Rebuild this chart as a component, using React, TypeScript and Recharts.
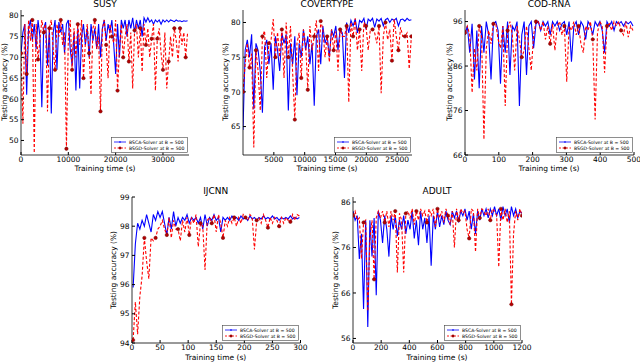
import React from 'react';
import { LineChart, Line, XAxis, YAxis } from 'recharts';

// ---- SUSY ----
const susyTime = [
  0, 400, 800, 1200, 1600, 2000, 2400, 2800, 3200, 3600,
  4000, 4400, 4800, 5200, 5600, 6000, 6400, 6800, 7200, 7600,
  8000, 8400, 8800, 9200, 9600, 10000, 10400, 10800, 11200, 11600,
  12000, 12400, 12800, 13200, 13600, 14000, 14400, 14800, 15200, 15600,
  16000, 16400, 16800, 17200, 17600, 18000, 18400, 18800, 19200, 19600,
  20000, 20400, 20800, 21200, 21600, 22000, 22400, 22800, 23200, 23600,
  24000, 24400, 24800, 25200, 25600, 26000, 26400, 26800, 27200, 27600,
  28000, 28400, 28800, 29200, 29600, 30000, 30400, 30800, 31200, 31600,
  32000, 32400, 32800, 33200, 33600, 34000, 34400, 34800, 35200,
];
const susyBsca = [
  71, 76, 78, 61, 77, 79, 74, 78, 72, 79,
  75, 58, 77, 78.5, 68, 77, 56.5, 76, 79, 67,
  78.5, 76, 78, 71, 78, 79, 72, 68, 76, 62,
  77, 62.5, 75, 78, 73, 77, 70, 78, 74, 77,
  72, 78, 70, 77, 79, 74, 78, 76, 79, 73,
  66, 78, 70, 79, 77, 79, 75, 79, 77, 79.5,
  76, 79, 77, 79, 75, 79.5, 78.5, 79.5, 78.5, 79,
  78, 79, 78.5, 79, 78, 79, 78.5, 79, 78.5, 79,
  78.8, 78.6, 79, 78.7, 78.8, 78.6, 78.8, 78.7, 78.8,
];
const susyBsgd = [
  71, 54, 78, 66, 79, 74, 79, 47, 78, 69.5,
  74, 79, 76, 78, 57, 77, 79, 72, 67, 78,
  75, 79, 73, 76, 48, 74.5, 79, 67, 77, 70,
  78, 73, 79, 65, 73.5, 78, 71, 61, 77, 79,
  72, 75, 57, 77, 79, 73, 65, 78, 75, 73.5,
  79, 62, 72, 78, 70, 75, 78, 69, 76, 62.5,
  76.5, 78, 70, 77, 66.5, 78, 73, 77, 70, 74.5,
  78, 62, 74.5, 77, 71, 67, 76, 62.5, 69, 75,
  70, 77, 74, 69, 77, 73, 76, 70, 76,
];
const susyXTicks = [0, 10000, 20000, 30000];
const susyYTicks = [50, 55, 60, 65, 70, 75, 80];

// ---- COVERTYPE ----
const covTime = [
  0, 350, 700, 1050, 1400, 1750, 2100, 2450, 2800, 3150,
  3500, 3850, 4200, 4550, 4900, 5250, 5600, 5950, 6300, 6650,
  7000, 7350, 7700, 8050, 8400, 8750, 9100, 9450, 9800, 10150,
  10500, 10850, 11200, 11550, 11900, 12250, 12600, 12950, 13300, 13650,
  14000, 14350, 14700, 15050, 15400, 15750, 16100, 16450, 16800, 17150,
  17500, 17850, 18200, 18550, 18900, 19250, 19600, 19950, 20300, 20650,
  21000, 21350, 21700, 22050, 22400, 22750, 23100, 23450, 23800, 24150,
  24500, 24850, 25200, 25550, 25900, 26250, 26600, 26950, 27300,
];
const covBsca = [
  64.5, 76, 77.5, 75, 78.3, 67.5, 77, 76, 73, 67,
  76.5, 77.5, 74, 77, 70.3, 78, 76, 73, 78.5, 77,
  78.3, 67.3, 77, 74, 78, 69.5, 77, 75, 79, 76,
  78, 74, 77, 68, 78, 79, 74, 79.5, 77, 78,
  75, 79, 78, 79.5, 76, 79, 78.5, 72, 80, 78.5,
  80.3, 79.5, 80.5, 78.5, 80.3, 80, 80.6, 79, 80.5, 80.2,
  80.6, 79.3, 80.5, 80.2, 80.6, 79.5, 80.4, 80.6, 80, 80.5,
  80.3, 80.6, 79.5, 80.4, 80.5, 80.2, 80.6, 80.3, 80.4,
];
const covBsgd = [
  70, 74, 77, 73.5, 75.5, 62, 76, 73, 67.3, 78,
  78.8, 72, 77, 77.5, 80.5, 75, 78.6, 75, 79, 72,
  80, 75, 79.5, 72.8, 66, 77, 78.5, 72, 79, 77,
  70.3, 79.5, 76, 78, 80.3, 73, 80.2, 79, 75, 78,
  74.3, 79, 76, 78.7, 73, 79, 78, 78, 79.5, 68.5,
  80, 78, 80.6, 76, 79, 73, 80, 79.5, 76, 79,
  79, 78.5, 77, 79.5, 69.8, 78, 80, 77.5, 79, 74.5,
  80.5, 78, 76, 79.3, 78, 78, 78.5, 73.3, 78,
];
const covXTicks = [5000, 10000, 15000, 20000, 25000];
const covYTicks = [65, 70, 75, 80];

// ---- COD-RNA ----
const codTime = [
  0, 7, 14, 21, 28, 35, 42, 49, 56, 63,
  70, 77, 84, 91, 98, 105, 112, 119, 126, 133,
  140, 147, 154, 161, 168, 175, 182, 189, 196, 203,
  210, 217, 224, 231, 238, 245, 252, 259, 266, 273,
  280, 287, 294, 301, 308, 315, 322, 329, 336, 343,
  350, 357, 364, 371, 378, 385, 392, 399, 406, 413,
  420, 427, 434, 441, 448, 455, 462, 469, 476, 483,
  490, 497,
];
const codBsca = [
  93, 95, 89, 95.5, 83, 94, 81, 95, 89, 96,
  93, 83, 95.5, 96, 94, 82, 95, 89, 96, 84,
  95, 94, 96, 77, 93, 96, 84, 95, 96, 90,
  95.5, 96, 94, 96, 95, 96, 93, 96, 95, 96,
  94, 95.5, 96, 93, 96, 87, 95, 96, 93, 96,
  95, 92, 96, 95, 93, 96, 95, 96, 94, 89,
  96, 95, 96, 94, 96, 95.5, 96, 95, 96, 95.5,
  96, 95,
];
const codBsgd = [
  93.5, 95, 93, 80, 90, 85, 95, 92.5, 69.5, 90,
  94, 91, 95.5, 95.5, 92, 90, 95, 77, 94, 96,
  93, 85, 95, 92, 88, 89.5, 95, 90, 85, 93,
  96, 96, 94, 96, 92, 95, 91, 95.5, 89.5, 95,
  96, 93, 95, 82.5, 95, 94, 96, 93, 95, 91,
  89, 95, 94, 96, 92, 74, 93.5, 96, 95, 84.5,
  95, 95.5, 94, 96, 95, 96, 94, 93, 96, 92.5,
  95, 94,
];
const codXTicks = [0, 100, 200, 300, 400, 500];
const codYTicks = [66, 76, 86, 96];

// ---- IJCNN ----
const ijTime = [
  2, 6, 10, 14, 18, 22, 26, 30, 34, 38,
  42, 46, 50, 54, 58, 62, 66, 70, 74, 78,
  82, 86, 90, 94, 98, 102, 106, 110, 114, 118,
  122, 126, 130, 134, 138, 142, 146, 150, 154, 158,
  162, 166, 170, 174, 178, 182, 186, 190, 194, 198,
  202, 206, 210, 214, 218, 222, 226, 230, 234, 238,
  242, 246, 250, 254, 258, 262, 266, 270, 274, 278,
  282, 286, 290, 294, 298,
];
const ijBsca = [
  95.9, 97.4, 98.1, 97.9, 98.2, 98.0, 98.4, 98.1, 97.8, 98.4,
  98.2, 98.5, 98.3, 98.5, 98.1, 97.7, 98.3, 97.9, 98.5, 98.0,
  98.3, 98.1, 98.3, 98.2, 98.4, 98.1, 98.3, 98.2, 98.3, 98.1,
  98.3, 97.9, 98.4, 98.0, 98.3, 98.2, 98.4, 98.2, 98.3, 97.8,
  98.3, 98.2, 98.3, 98.2, 98.35, 98.25, 98.3, 98.2, 98.35, 98.25,
  98.3, 98.2, 98.35, 98.25, 98.3, 98.2, 98.3, 98.25, 98.35, 98.25,
  98.3, 98.25, 98.35, 98.25, 98.3, 98.2, 98.3, 98.25, 98.3, 98.25,
  98.35, 98.25, 98.3, 98.25, 98.3,
];
const ijBsgd = [
  94.1, 95.4, 94.3, 95.6, 96.3, 97.6, 96.8, 96.2, 97.6, 97.5,
  97.6, 97.9, 98.0, 98.2, 97.9, 97.7, 98.3, 97.6, 98.2, 97.9,
  97.9, 97.5, 98.2, 97.8, 98.3, 97.7, 98.3, 98.1, 98.4, 97.3,
  98.1, 98.0, 96.5, 98.2, 98.3, 98.1, 98.4, 97.8, 98.4, 98.1,
  97.6, 98.2, 98.0, 98.3, 98.1, 98.3, 98.0, 98.3, 98.1, 98.4,
  98.3, 98.2, 98.4, 98.3, 97.2, 98.2, 98.3, 98.1, 98.4, 98.2,
  97.95, 98.3, 98.1, 98.3, 98.2, 98.0, 98.3, 98.1, 98.3, 98.2,
  98.15, 98.4, 98.2, 98.4, 98.35,
];
const ijXTicks = [0, 50, 100, 150, 200, 250, 300];
const ijYTicks = [94, 95, 96, 97, 98, 99];

// ---- ADULT ----
const adTime = [
  0, 15, 30, 45, 60, 75, 90, 105, 120, 135,
  150, 165, 180, 195, 210, 225, 240, 255, 270, 285,
  300, 315, 330, 345, 360, 375, 390, 405, 420, 435,
  450, 465, 480, 495, 510, 525, 540, 555, 570, 585,
  600, 615, 630, 645, 660, 675, 690, 705, 720, 735,
  750, 765, 780, 795, 810, 825, 840, 855, 870, 885,
  900, 915, 930, 945, 960, 975, 990, 1005, 1020, 1035,
  1050, 1065, 1080, 1095, 1110, 1125, 1140, 1155, 1170, 1185,
  1200,
];
const adBsca = [
  84, 82, 83, 73.5, 79, 62.5, 82, 58.5, 82, 74,
  82.5, 65.5, 84, 82, 77, 83, 80, 74, 83, 80,
  83, 78.5, 82, 80, 83, 79, 82, 80, 84, 78,
  82, 76.5, 84, 80, 82.5, 77, 83, 72, 83, 80,
  84, 80.5, 83, 81, 84, 82, 81, 84, 82.5, 84,
  81.5, 84, 83, 84.5, 82, 84, 80, 83.5, 79, 84,
  82, 84.5, 83, 84.5, 82.5, 84.5, 83, 85, 83, 84.5,
  82, 85, 83, 84.5, 81.5, 85, 83, 84.5, 82.5, 84,
  83.5,
];
const adBsgd = [
  83, 84, 82, 82.5, 73.5, 81.5, 82, 62, 78, 82,
  69, 82.5, 84, 82.5, 84, 81.5, 84, 80.5, 84, 82,
  84, 70.5, 83.5, 82, 70.5, 83.5, 84, 82.5, 84.5, 81,
  84, 82, 84.5, 83, 84, 81.5, 84.5, 83, 84.5, 80.5,
  84.5, 82.5, 84, 81.5, 84.5, 83, 81, 84, 76, 84.5,
  82, 84.5, 83.5, 84, 80, 78, 84.5, 84, 75, 84.5,
  82.5, 84.5, 84, 83, 84.5, 82, 84.5, 84, 83, 71.7,
  84.5, 82, 84.5, 81.5, 84, 63.5, 79, 84, 82, 84.5,
  83,
];
const adXTicks = [0, 200, 400, 600, 800, 1000, 1200];
const adYTicks = [56, 66, 76, 86];

const toRows = (time: number[], vals: number[]) => time.map((t, i) => ({ t, v: vals[i] }));

interface PanelCfg {
  title: string;
  time: number[];
  bsca: number[];
  bsgd: number[];
  xDomain: [number, number];
  yDomain: [number, number];
  xTicks: number[];
  yTicks: number[];
  box: { left: number; top: number; width: number; height: number };
  every: number;
  labelGap: number;
}

const panels: PanelCfg[] = [
  { title: 'SUSY', time: susyTime, bsca: susyBsca, bsgd: susyBsgd, xDomain: [0, 35500], yDomain: [46.5, 81.4], xTicks: susyXTicks, yTicks: susyYTicks, box: { left: 21, top: 9.5, width: 168, height: 145 }, every: 3, labelGap: 16.5 },
  { title: 'COVERTYPE', time: covTime, bsca: covBsca, bsgd: covBsgd, xDomain: [0, 27400], yDomain: [60.9, 81.8], xTicks: covXTicks, yTicks: covYTicks, box: { left: 242.5, top: 9.5, width: 169, height: 145 }, every: 3, labelGap: 16.5 },
  { title: 'COD-RNA', time: codTime, bsca: codBsca, bsgd: codBsgd, xDomain: [0, 500], yDomain: [66, 98.6], xTicks: codXTicks, yTicks: codYTicks, box: { left: 464.5, top: 9.5, width: 169, height: 145 }, every: 6, labelGap: 14.5 },
  { title: 'IJCNN', time: ijTime, bsca: ijBsca, bsgd: ijBsgd, xDomain: [0, 300], yDomain: [94, 99], xTicks: ijXTicks, yTicks: ijYTicks, box: { left: 131.5, top: 197, width: 168.5, height: 146 }, every: 5, labelGap: 18 },
  { title: 'ADULT', time: adTime, bsca: adBsca, bsgd: adBsgd, xDomain: [0, 1200], yDomain: [55, 87.1], xTicks: adXTicks, yTicks: adYTicks, box: { left: 352.5, top: 197, width: 169, height: 146 }, every: 5, labelGap: 16.5 },
];

const markerDot = (every: number) => (p: any) =>
  p.index % every === 0 ? (
    <circle key={`m${p.index}`} cx={p.cx} cy={p.cy} r={1.7} fill="#b40000" stroke="#6e0000" strokeWidth={0.5} />
  ) : (
    <g key={`m${p.index}`} />
  );

const MiniLegend = ({ left, top }: { left: number; top: number }) => (
  <svg width={77} height={16} style={{ position: 'absolute', left, top }}>
    <rect x={0.5} y={0.5} width={76} height={15} fill="#fff" stroke="#444" strokeWidth={0.6} />
    <line x1={3} x2={15} y1={5} y2={5} stroke="#0000ff" strokeWidth={0.8} />
    <path d="M8 4 L10 6 M10 4 L8 6" stroke="#0000ff" strokeWidth={0.5} />
    <text x={18} y={6.7} fontSize={4.6} fill="#000">BSCA-Solver at B = 500</text>
    <line x1={3} x2={15} y1={11} y2={11} stroke="#ff0000" strokeWidth={0.9} strokeDasharray="2 1.5" />
    <circle cx={9} cy={11} r={1.2} fill="#b40000" stroke="#6e0000" strokeWidth={0.4} />
    <text x={18} y={12.7} fontSize={4.6} fill="#000">BSGD-Solver at B = 500</text>
  </svg>
);

const Panel = ({ cfg }: { cfg: PanelCfg }) => {
  const { left, top, width, height } = cfg.box;
  const blueRows = toRows(cfg.time, cfg.bsca);
  const redRows = toRows(cfg.time, cfg.bsgd);
  const tickStyle = { fontSize: 7.5, fill: '#000' };
  const axisLine = { stroke: '#000', strokeWidth: 0.8 };
  return (
    <>
      <div style={{ position: 'absolute', left: left - 40, top: top - 20 }}>
        <LineChart width={width + 50} height={height + 50} margin={{ top: 20, right: 10, left: 0, bottom: 0 }}>
          <XAxis dataKey="t" type="number" domain={cfg.xDomain} ticks={cfg.xTicks} allowDataOverflow height={30}
            tickSize={-3} tickMargin={4.5} tick={tickStyle} axisLine={axisLine} tickLine={{ stroke: '#000' }} />
          <YAxis type="number" domain={cfg.yDomain} ticks={cfg.yTicks} allowDataOverflow width={40}
            tickSize={-3} tickMargin={5.5} tick={tickStyle} axisLine={axisLine} tickLine={{ stroke: '#000' }} />
          <XAxis xAxisId="top" orientation="top" type="number" domain={cfg.xDomain} ticks={cfg.xTicks} allowDataOverflow height={0}
            tickSize={-3} tick={false} axisLine={axisLine} tickLine={{ stroke: '#000' }} />
          <YAxis yAxisId="right" orientation="right" type="number" domain={cfg.yDomain} ticks={cfg.yTicks} allowDataOverflow width={0}
            tickSize={-3} tick={false} axisLine={axisLine} tickLine={{ stroke: '#000' }} />
          <Line data={blueRows} dataKey="v" stroke="#0000ff" strokeWidth={1.1} dot={false} isAnimationActive={false} />
          <Line data={redRows} dataKey="v" stroke="#ff0000" strokeWidth={1.1} strokeDasharray="3 2"
            dot={markerDot(cfg.every)} activeDot={false} isAnimationActive={false} />
        </LineChart>
      </div>
      <div style={{ position: 'absolute', left, top: top - 11, width, textAlign: 'center', fontSize: 9, lineHeight: '10px' }}>
        {cfg.title}
      </div>
      <div style={{ position: 'absolute', left, top: top + height + 9.5, width, textAlign: 'center', fontSize: 7.5, lineHeight: '9px' }}>
        Training time (s)
      </div>
      <div style={{
        position: 'absolute', left: left - cfg.labelGap - 60, top: top + height / 2 - 5, width: 120, textAlign: 'center',
        fontSize: 7.5, lineHeight: '10px', transform: 'rotate(-90deg)',
      }}>
        Testing accuracy (%)
      </div>
      <MiniLegend left={left + width - 78} top={top + height - 18} />
    </>
  );
};

export default function App() {
  return (
    <div style={{ position: 'absolute', left: 0, top: 0, width: 640, height: 362, background: '#fff', fontFamily: '"DejaVu Sans", sans-serif', color: '#000', overflow: 'hidden' }}>
      {panels.map((p) => (
        <Panel key={p.title} cfg={p} />
      ))}
    </div>
  );
}
